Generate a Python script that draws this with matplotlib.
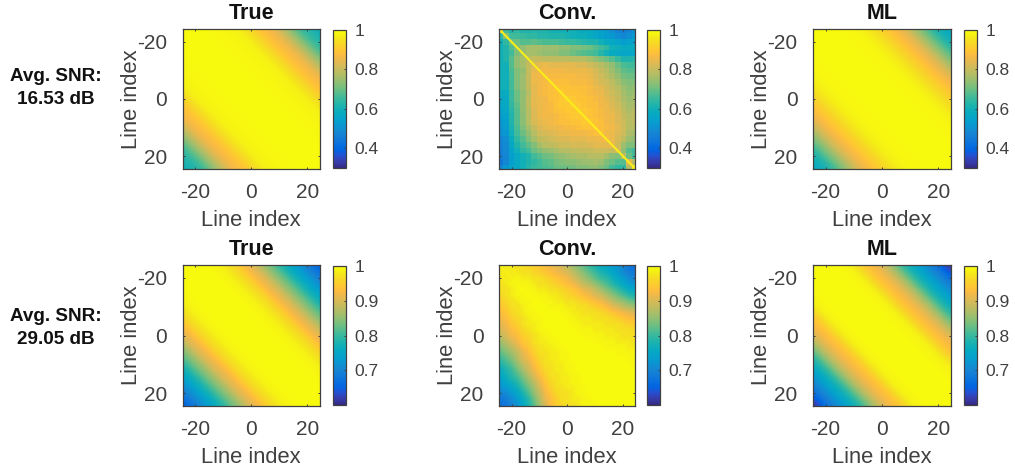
import numpy as np
import matplotlib
matplotlib.use("Agg")
import matplotlib.pyplot as plt
from matplotlib.colors import LinearSegmentedColormap

plt.rcParams['font.family'] = ['Liberation Sans', 'DejaVu Sans']
plt.rcParams['axes.unicode_minus'] = False

W, H = 1015, 470
GREY = '#404040'

parula_rows = [
    (0.2081,0.1663,0.5292),(0.2123,0.2138,0.6270),(0.1959,0.2645,0.7279),(0.1253,0.3242,0.8303),
    (0.0117,0.3875,0.8820),(0.0165,0.4266,0.8786),(0.0498,0.4586,0.8641),(0.0723,0.4887,0.8467),
    (0.0793,0.5200,0.8312),(0.0641,0.5570,0.8240),(0.0343,0.5966,0.8199),(0.0239,0.6287,0.8038),
    (0.0228,0.6535,0.7768),(0.0384,0.6743,0.7436),(0.0843,0.6928,0.7062),(0.1453,0.7098,0.6646),
    (0.2178,0.7250,0.6193),(0.3022,0.7376,0.5712),(0.3953,0.7459,0.5244),(0.4871,0.7491,0.4840),
    (0.5709,0.7485,0.4494),(0.6473,0.7456,0.4188),(0.7184,0.7411,0.3905),(0.7858,0.7356,0.3633),
    (0.8507,0.7299,0.3360),(0.9139,0.7258,0.3063),(0.9739,0.7314,0.2666),(0.9990,0.7653,0.2164),
    (0.9880,0.8066,0.1794),(0.9697,0.8481,0.1475),(0.9589,0.8949,0.1132),(0.9661,0.9514,0.0755),
    (0.9763,0.9831,0.0538)]
parula = LinearSegmentedColormap.from_list('parula', parula_rows, N=256)

# correlation (%) against line separation 0, 2, ... 48
true_top_lag = [100,100,100,100,100,99,99,99,98,98,97,95,93,90,88,87,85,81,77,73,68,65,63,61,60]
ml_top_lag = [100,100,100,100,100,99,99,99,98,97,96,94,92,90,88,86,84,80,76,72,68,64,61,59,57]
true_bot_lag = [100,100,100,100,100,99,99,98,97,96,94,92,91,89,86,84,82,79,77,75,73,71,69,67,65]
ml_bot_lag = [100,100,100,100,100,99,99,98,96,94,93,92,90,88,85,82,79,77,75,73,71,69,67,64,61]

# correlation (%) on lines -24, -22, ... 24
conv_top = [
[88,66,62,64,62,62,63,62,62,61,60,60,60,60,59,58,58,56,55,53,50,47,46,48,50],
[64,72,66,66,65,64,64,63,63,62,62,62,61,60,59,59,58,56,55,53,52,50,48,50,52],
[60,64,70,70,68,68,69,68,67,67,67,66,65,65,64,63,62,62,60,58,57,55,54,55,55],
[60,62,68,72,74,76,76,76,75,75,75,74,74,72,72,71,70,68,66,64,60,59,58,58,58],
[60,62,66,72,74,76,76,75,74,74,74,72,72,70,69,68,67,66,63,60,58,57,56,56,56],
[60,62,68,74,76,78,80,80,79,79,79,79,79,78,78,78,76,74,72,70,68,65,62,62,63],
[60,60,68,74,76,80,83,84,85,84,84,84,84,84,83,83,81,80,78,76,74,70,67,66,66],
[60,60,67,72,74,80,84,86,86,86,86,86,85,85,85,85,84,82,80,78,75,72,69,68,68],
[60,60,66,72,75,80,85,86,87,87,87,87,87,87,86,86,85,83,81,79,77,74,71,70,70],
[60,60,66,72,75,80,85,86,87,88,88,88,88,87,87,87,86,84,82,81,79,76,73,72,72],
[60,60,66,72,75,80,84,86,87,88,89,89,89,88,88,88,87,85,84,82,80,78,75,73,74],
[58,58,65,70,74,78,84,86,87,88,89,90,89,89,89,88,87,86,85,83,81,79,76,74,75],
[57,57,65,70,74,79,84,85,86,88,89,90,91,90,89,89,88,87,86,84,82,80,77,75,76],
[56,57,64,69,74,79,84,85,86,87,89,90,90,91,90,89,88,88,86,85,83,81,78,76,77],
[55,56,63,68,74,78,83,85,86,87,88,89,90,90,91,90,89,88,87,85,84,82,79,77,78],
[54,55,62,68,73,78,83,85,86,86,87,88,89,90,90,90,89,88,87,86,85,83,80,78,79],
[52,54,62,68,73,78,82,84,85,86,87,88,88,89,89,90,90,89,88,86,85,83,81,78,79],
[51,53,61,67,72,76,80,83,84,85,85,86,87,87,88,89,89,89,88,87,86,84,81,78,78],
[50,52,60,66,70,74,78,81,82,83,84,85,85,86,86,86,87,88,88,86,85,83,81,77,76],
[48,50,58,64,68,72,76,79,80,81,82,83,83,84,84,84,85,85,86,87,85,82,79,75,74],
[47,49,56,62,66,69,72,76,78,79,80,81,81,82,82,82,83,84,84,84,85,81,75,72,72],
[46,49,55,60,64,66,70,72,74,75,76,78,78,79,79,80,80,81,81,81,80,82,74,68,66],
[46,48,54,57,60,62,66,68,70,71,73,74,75,76,77,77,78,78,78,76,73,72,78,70,66],
[44,48,54,57,60,62,64,66,68,69,71,72,73,73,74,75,75,76,75,72,70,68,68,84,78],
[48,52,55,57,60,63,65,66,67,68,70,70,70,71,72,72,73,74,72,70,66,64,64,78,100]]

# lower triangle only: this panel is symmetric about its diagonal
conv_bot_lower = [
[98],
[98,98],
[98,98,98],
[97,98,99,99],
[97,97,98,99,100],
[96,97,98,99,99,100],
[95,96,97,98,99,99,100],
[94,95,97,97,98,99,100,100],
[93,94,96,97,98,99,99,100,100],
[92,93,95,96,97,98,99,99,100,100],
[91,92,94,95,97,98,98,99,100,100,100],
[90,91,93,94,96,97,98,99,99,100,100,100],
[88,90,92,93,95,96,97,98,99,99,100,100,100],
[86,88,90,92,94,95,97,98,98,99,99,100,100,100],
[84,86,88,90,93,94,96,97,98,98,99,99,100,100,100],
[82,84,86,88,91,93,95,97,97,98,98,99,99,100,100,100],
[80,82,84,87,90,92,94,96,97,98,98,99,99,100,100,100,100],
[78,80,82,85,88,90,93,95,97,97,98,98,99,99,100,100,100,100],
[76,78,80,83,86,89,92,94,96,97,98,98,99,99,100,100,100,100,100],
[75,77,79,81,84,87,90,93,95,97,97,98,98,99,99,100,100,100,100,100],
[73,75,77,79,82,85,88,91,94,96,97,98,98,99,99,100,100,100,100,100,100],
[72,73,75,77,80,83,86,90,93,95,97,97,98,98,99,99,100,100,100,100,100,100],
[70,71,73,75,78,81,85,88,92,94,96,97,97,98,99,99,100,100,100,100,100,100,100],
[68,69,71,73,76,79,83,87,91,93,95,97,97,98,98,99,99,100,100,100,100,100,100,100],
[67,68,70,72,75,78,82,86,90,93,95,96,97,97,98,99,99,99,100,100,100,100,100,100,100]]

line_index = [-24 + 2*k for k in range(25)]
diag_index = list(range(-24, 25))
titles = ['True', 'Conv.', 'ML']
snr_labels = ['Avg. SNR:\n16.53 dB', 'Avg. SNR:\n29.05 dB']
axis_ticks = [-20, 0, 20]
row_limits = [(0.3, 1.0), (0.6, 1.0)]
row_ticks = [[0.4, 0.6, 0.8, 1.0], [0.7, 0.8, 0.9, 1.0]]
cbar_labels = [['0.4', '0.6', '0.8', '1'], ['0.7', '0.8', '0.9', '1']]

def toeplitz(lag):
    n = len(lag)
    return np.array([[lag[abs(i-j)] for j in range(n)] for i in range(n)]) / 100.0

def mirrored(lower):
    n = len(lower)
    return np.array([[lower[max(i, j)][min(i, j)] for j in range(n)] for i in range(n)]) / 100.0

panels = [[toeplitz(true_top_lag), np.array(conv_top)/100.0, toeplitz(ml_top_lag)],
          [toeplitz(true_bot_lag), mirrored(conv_bot_lower), toeplitz(ml_bot_lag)]]

col_px = [(182.5, 320), (499, 635.5), (813, 951)]
cb_px = [(333, 346), (647, 660), (964, 977)]
row_px = [(29, 169), (265, 406)]
snr_y = [88, 328]
interp = [['bicubic', 'nearest', 'bicubic'], ['bicubic', 'bilinear', 'bicubic']]

def rect(x0, x1, y0, y1):
    return [x0/W, 1 - y1/H, (x1-x0)/W, (y1-y0)/H]

fig = plt.figure(figsize=(W/100, H/100), dpi=100)

for r in range(2):
    y0, y1 = row_px[r]
    vmin, vmax = row_limits[r]
    for c in range(3):
        ax = fig.add_axes(rect(col_px[c][0], col_px[c][1], y0, y1))
        im = ax.imshow(panels[r][c], cmap=parula, vmin=vmin, vmax=vmax, aspect='auto',
                       extent=(line_index[0]-1, line_index[-1]+1, line_index[-1]+1, line_index[0]-1),
                       interpolation=interp[r][c])
        if c == 1:
            if r == 0:
                ax.plot(diag_index, diag_index, color=(0.98, 0.93, 0.10), lw=1.5, solid_capstyle='butt')
            else:
                ax.plot(diag_index[:14], diag_index[:14], color=parula(1.0), lw=0.8, alpha=0.6)
        ax.set_xlim(-24.5, 24.5)
        ax.set_ylim(24.5, -24.5)
        ax.set_xticks(axis_ticks)
        ax.set_yticks(axis_ticks)
        ax.tick_params(direction='in', length=1.5, width=0.7, color=GREY, labelcolor=GREY,
                       labelsize=15, top=True, right=True)
        ax.tick_params(axis='x', pad=10)
        ax.tick_params(axis='y', pad=11)
        for s in ax.spines.values():
            s.set_color(GREY); s.set_linewidth(0.9)
        ax.set_xlabel('Line index', fontsize=15.8, color=GREY, labelpad=5.5)
        ax.set_ylabel('Line index', fontsize=15.8, color=GREY, labelpad=-3.4)
        ax.set_title(titles[c], fontsize=15.5, fontweight='bold', color='#111111', pad=7)
        cax = fig.add_axes(rect(cb_px[c][0], cb_px[c][1], y0 + 1, y1 - 1))
        cb = fig.colorbar(im, cax=cax)
        cb.set_ticks(row_ticks[r])
        cb.set_ticklabels(cbar_labels[r])
        cb.ax.tick_params(direction='in', length=1.5, width=0.7, color=GREY, labelcolor=GREY,
                          labelsize=12.5, pad=6)
        cb.outline.set_edgecolor(GREY)
        cb.outline.set_linewidth(0.9)
    fig.text(55.5/W, 1 - snr_y[r]/H, snr_labels[r], ha='center', va='center', fontsize=13.6,
             fontweight='bold', color='#111111', linespacing=1.45)

fig.savefig('out.png', dpi=100)
